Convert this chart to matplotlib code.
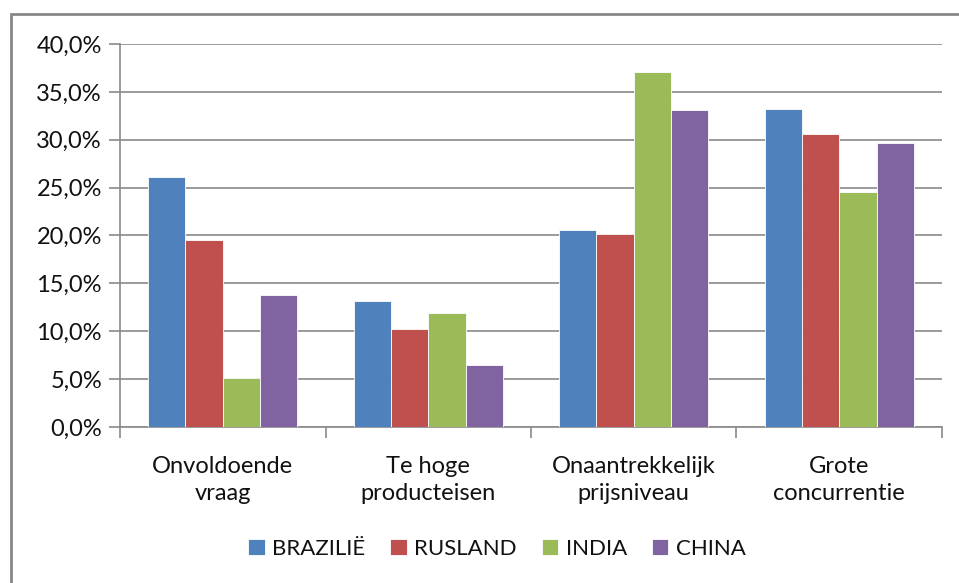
import numpy as np
import matplotlib.pyplot as plt
from matplotlib.patches import Rectangle
from matplotlib.ticker import FuncFormatter

categories = ["Onvoldoende\nvraag", "Te hoge\nproducteisen",
              "Onaantrekkelijk\nprijsniveau", "Grote\nconcurrentie"]
series = ["BRAZILIË", "RUSLAND", "INDIA", "CHINA"]
brazilie = [26.1, 13.2, 20.6, 33.2]
rusland = [19.5, 10.2, 20.2, 30.6]
india = [5.1, 11.9, 37.1, 24.5]
china = [13.8, 6.5, 33.1, 29.7]
colors = ["#4f81bd", "#c0504d", "#9bbb59", "#8064a2"]

plt.rcParams['font.family'] = ['Lato', 'DejaVu Sans']

fig = plt.figure(figsize=(9.59, 5.83), dpi=100)
ax = fig.add_axes([120 / 959, 1 - 427 / 583, 822 / 959, 383 / 583])

# chart border
fig.patches.append(Rectangle((11 / 959, -0.1), 1.2, 1 - 14 / 583 + 0.1,
                             transform=fig.transFigure, fill=False,
                             edgecolor="#878787", linewidth=2))

x = np.arange(len(categories))
w = 1 / 5.5
for i, (vals, name) in enumerate(zip([brazilie, rusland, india, china], series)):
    ax.bar(x + (i - 1.5) * w, vals, w, color=colors[i], label=name,
           edgecolor="white", linewidth=0.6, zorder=3)

ax.set_xlim(-0.5, 3.5)
ax.set_ylim(0, 40)
ax.set_yticks(np.arange(0, 41, 5))
ax.yaxis.set_major_formatter(FuncFormatter(lambda v, p: f"{v:.1f}%".replace(".", ",")))
ax.yaxis.grid(True, color="#8a8a8a", linewidth=1.2, zorder=0)
ax.set_axisbelow(True)

ax.set_xticks(np.arange(-0.5, 4, 1))
ax.set_xticklabels([])
ax.set_xticks(x, minor=True)
ax.set_xticklabels(categories, minor=True, fontsize=17, color="#111111",
                   linespacing=1.35)
ax.tick_params(axis="x", which="minor", length=0, pad=21)
ax.tick_params(axis="x", which="major", length=8, color="#8a8a8a", width=1.2)
ax.tick_params(axis="y", length=8, color="#8a8a8a", width=1.2,
               labelsize=17, labelcolor="#111111", pad=5)

for s in ["top", "right"]:
    ax.spines[s].set_visible(False)
for s in ["left", "bottom"]:
    ax.spines[s].set_color("#8a8a8a")
    ax.spines[s].set_linewidth(1.2)

fig.legend(loc="center", bbox_to_anchor=(497 / 959, 1 - 549 / 583), ncol=4,
           frameon=False, fontsize=16, handlelength=0.75, handleheight=0.75,
           handletextpad=0.35, columnspacing=1.1, labelcolor="#111111")

fig.savefig("out.png", dpi=100)
